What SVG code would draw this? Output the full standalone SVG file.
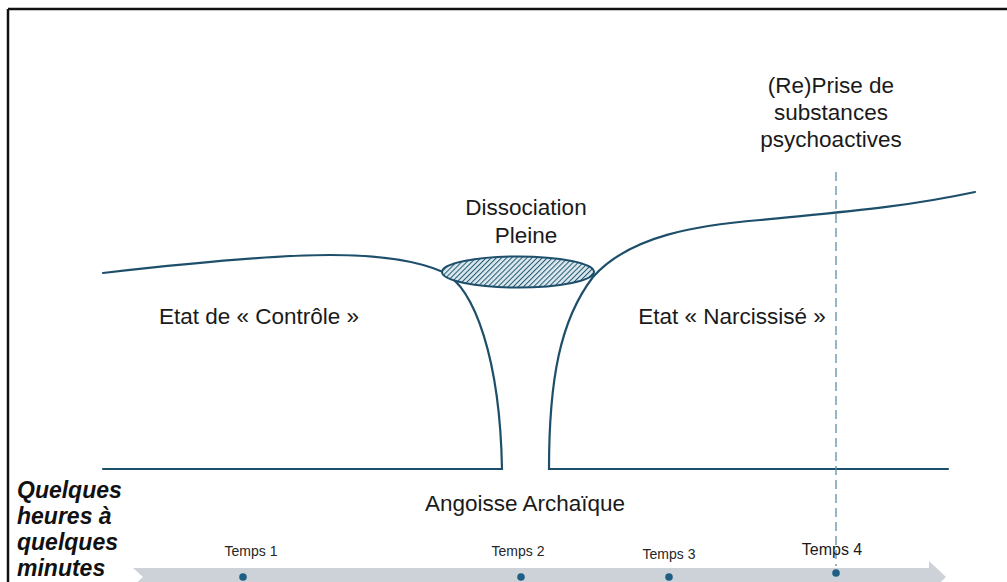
<svg xmlns="http://www.w3.org/2000/svg" width="1007" height="582" viewBox="0 0 1007 582">
<defs>
<style>
.curve{fill:none;stroke:#1d4f6b;stroke-width:2.2;stroke-linecap:round}
.lbl{font-family:"Liberation Sans",Arial,sans-serif;fill:#1a1a1a;text-anchor:middle}
.big{font-size:22.5px}
.t{font-size:14px;fill:#262626}
.dot{fill:#1f5f86}
</style>
<pattern id="hatch" patternUnits="userSpaceOnUse" width="3.6" height="3.6" patternTransform="rotate(45)">
<rect width="3.6" height="3.6" fill="#dce8ee"/>
<line x1="0" y1="0" x2="0" y2="3.6" stroke="#1d5870" stroke-width="2"/>
</pattern>
</defs>
<rect width="1007" height="582" fill="#ffffff"/>
<g id="frame" stroke="#111" stroke-width="2.5" fill="none">
<line x1="8" y1="9" x2="1007" y2="9"/>
<line x1="8" y1="9" x2="8" y2="582"/>
</g>
<g id="timeline">
<path d="M133,568 L929,568 L929,561 L946,577 L929,593 L929,586 L133,586 L143,577 Z" fill="#cdd2d8"/>
</g>
<g id="connectors">
<path class="curve" d="M103,273 C200,262 280,255 330,255 C385,255 420,262 443,272 C475,288 500,360 502,469 L103,469"/>
<path class="curve" d="M948,469 L549,469 C549,380 560,320 593,277 C630,235 700,225 760,220 C840,212 900,208 975,192"/>
<line x1="836" y1="172" x2="836" y2="566" stroke="#5a8fa8" stroke-width="1.3" stroke-dasharray="9,5"/>
</g>
<g id="dissociation">
<ellipse cx="518" cy="272" rx="76" ry="15.5" fill="url(#hatch)" stroke="#1d4f6b" stroke-width="2"/>
<text class="lbl big" x="526" y="215">Dissociation</text>
<text class="lbl big" x="526" y="243">Pleine</text>
</g>
<g id="controle">
<text class="lbl big" x="259" y="324">Etat de « Contrôle »</text>
</g>
<g id="narcissise">
<text class="lbl big" x="732" y="324">Etat « Narcissisé »</text>
</g>
<g id="angoisse">
<text class="lbl big" x="525" y="511">Angoisse Archaïque</text>
</g>
<g id="reprise">
<text class="lbl big" x="831" y="93">(Re)Prise de</text>
<text class="lbl big" x="831" y="120">substances</text>
<text class="lbl big" x="831" y="147">psychoactives</text>
</g>
<g id="duree">
<text font-family="'Liberation Sans',Arial,sans-serif" font-size="23" font-weight="bold" font-style="italic" fill="#111">
<tspan x="17" y="498">Quelques</tspan>
<tspan x="17" y="524">heures à</tspan>
<tspan x="17" y="550">quelques</tspan>
<tspan x="17" y="576">minutes</tspan>
</text>
</g>
<g id="temps1">
<text class="lbl t" x="251" y="556">Temps 1</text>
<circle class="dot" cx="243" cy="577" r="3.8"/>
</g>
<g id="temps2">
<text class="lbl t" x="518" y="556">Temps 2</text>
<circle class="dot" cx="521" cy="577" r="3.8"/>
</g>
<g id="temps3">
<text class="lbl t" x="669" y="559">Temps 3</text>
<circle class="dot" cx="669" cy="577" r="3.8"/>
</g>
<g id="temps4">
<text class="lbl" x="832" y="555" font-size="16">Temps 4</text>
<circle class="dot" cx="836" cy="573" r="3.8"/>
</g>
</svg>
